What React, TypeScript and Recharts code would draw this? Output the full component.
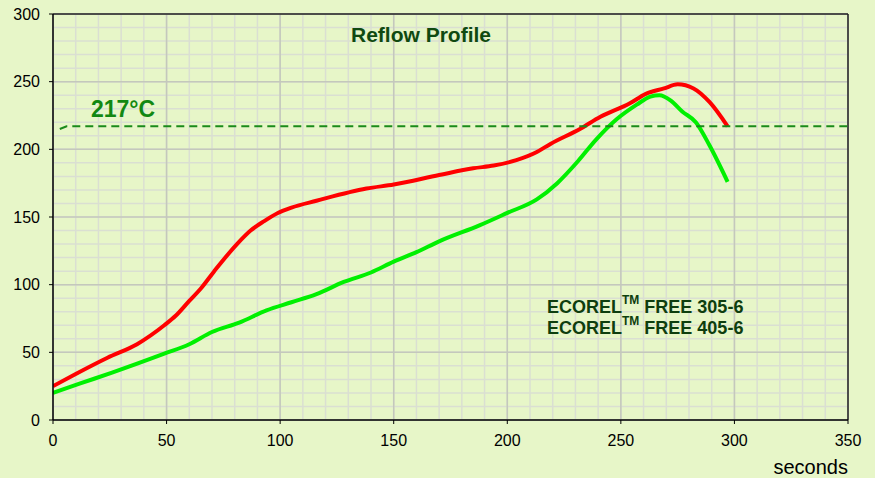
import React from "react";
import { LineChart, Line, XAxis, YAxis, CartesianGrid, ReferenceLine } from "recharts";

const xTicks = [0, 50, 100, 150, 200, 250, 300, 350];
const yTicks = [0, 50, 100, 150, 200, 250, 300];
const xMinorTicks = [0,10,20,30,40,50,60,70,80,90,100,110,120,130,140,150,160,170,180,190,200,210,220,230,240,250,260,270,280,290,300,310,320,330,340,350];
const yMinorTicks = [0,10,20,30,40,50,60,70,80,90,100,110,120,130,140,150,160,170,180,190,200,210,220,230,240,250,260,270,280,290,300];

// ECOREL FREE 305-6 (red)
const redSeries = [
  [0, 25], [10, 34], [24, 46], [37, 56], [49, 70], [54, 77], [60, 88], [65, 97],
  [71, 110], [81, 130], [87, 140], [93, 147], [99, 153], [105, 157], [116, 162],
  [138, 171], [150, 174], [170, 181], [185, 186], [194, 188], [204, 192], [213, 198],
  [219, 204], [232, 215], [241, 224], [254, 234], [261, 241], [269, 245], [275, 248],
  [282, 245], [289, 235], [297, 217],
];
// ECOREL FREE 405-6 (green)
const greenSeries = [
  [0, 20], [12, 27], [26, 35], [49, 49], [60, 56], [70, 65], [82, 72], [94, 81],
  [105, 87], [116, 93], [128, 102], [140, 109], [150, 117], [160, 124], [170, 132],
  [188, 144], [200, 153], [213, 163], [222, 175], [231, 191], [239, 207], [248, 222],
  [257, 233], [263, 239], [267, 240], [272, 236], [277, 228], [283, 220], [289, 203],
  [297, 176],
];
const liquidusSeries = [[3, 215], [6, 217], [350, 217]];

const toRows = (arr: number[][]) => arr.map(([x, y]) => ({ x, y }));

const BG = "#e7f6c8";
const FONT = "'Liberation Sans', Arial, sans-serif";
const tickStyle = { fill: "#000", fontSize: 16, fontFamily: FONT };

const applyScale = (axis: any, v: number): number | null => {
  const s = axis && axis.scale;
  if (!s) return null;
  if (typeof s === "function") return s(v);
  if (typeof s.map === "function") return s.map(v);
  return null;
};

const minorX = (props: any) => {
  const out: number[] = [];
  xMinorTicks.forEach((t) => {
    const p = applyScale(props.xAxis, t);
    if (p != null && !isNaN(p)) out.push(p);
  });
  return out;
};
const minorY = (props: any) => {
  const out: number[] = [];
  yMinorTicks.forEach((t) => {
    const p = applyScale(props.yAxis, t);
    if (p != null && !isNaN(p)) out.push(p);
  });
  return out;
};

export default function App() {
  return (
    <div style={{ position: "absolute", left: 0, top: 0, width: 875, height: 478, background: BG }}>
      <LineChart width={875} height={478} margin={{ top: 14, right: 27, left: 0, bottom: 0 }}>
        <CartesianGrid
          stroke="#dadfd2"
          strokeWidth={1.5}
          verticalCoordinatesGenerator={minorX}
          horizontalCoordinatesGenerator={minorY}
        />
        <CartesianGrid stroke="#c4c8bc" strokeWidth={1.5} />
        <XAxis
          type="number"
          dataKey="x"
          domain={[0, 350]}
          ticks={xTicks}
          height={58}
          tickSize={4}
          tickMargin={11}
          tick={tickStyle}
          stroke="#000"
          axisLine={{ stroke: "#000", strokeWidth: 1.5 }}
          tickLine={{ stroke: "#000" }}
          allowDataOverflow
        />
        <YAxis
          type="number"
          domain={[0, 300]}
          ticks={yTicks}
          width={53}
          tickSize={4}
          tickMargin={9}
          tick={tickStyle}
          axisLine={{ stroke: "#000", strokeWidth: 1.5 }}
          tickLine={{ stroke: "#000" }}
          allowDataOverflow
        />
        <ReferenceLine y={300} stroke="#222" strokeWidth={1.5} />
        <ReferenceLine x={350} stroke="#222" strokeWidth={1.5} />
        <Line data={toRows(redSeries)} dataKey="y" type="monotone" stroke="#ff0000" strokeWidth={4} dot={false} isAnimationActive={false} />
        <Line data={toRows(greenSeries)} dataKey="y" type="monotone" stroke="#00f000" strokeWidth={4} dot={false} isAnimationActive={false} />
        <Line data={toRows(liquidusSeries)} dataKey="y" type="linear" stroke="#1a8a1a" strokeWidth={2} strokeDasharray="8 5" dot={false} isAnimationActive={false} />
        <text x={421} y={42} textAnchor="middle" fontFamily={FONT} fontWeight="bold" fontSize={21} fill="#104a10">Reflow Profile</text>
        <text x={91} y={117} fontFamily={FONT} fontWeight="bold" fontSize={23} fill="#128812">217°C</text>
        <text x={547} y={313} fontFamily={FONT} fontWeight="bold" fontSize={18} fill="#0e3e0e">
          ECOREL<tspan fontSize={12} dy={-9}>TM</tspan><tspan dy={9}> FREE 305-6</tspan>
        </text>
        <text x={547} y={334} fontFamily={FONT} fontWeight="bold" fontSize={18} fill="#0e3e0e">
          ECOREL<tspan fontSize={12} dy={-9}>TM</tspan><tspan dy={9}> FREE 405-6</tspan>
        </text>
        <text x={848} y={474} textAnchor="end" fontFamily={FONT} fontSize={20} fill="#000">seconds</text>
      </LineChart>
    </div>
  );
}
